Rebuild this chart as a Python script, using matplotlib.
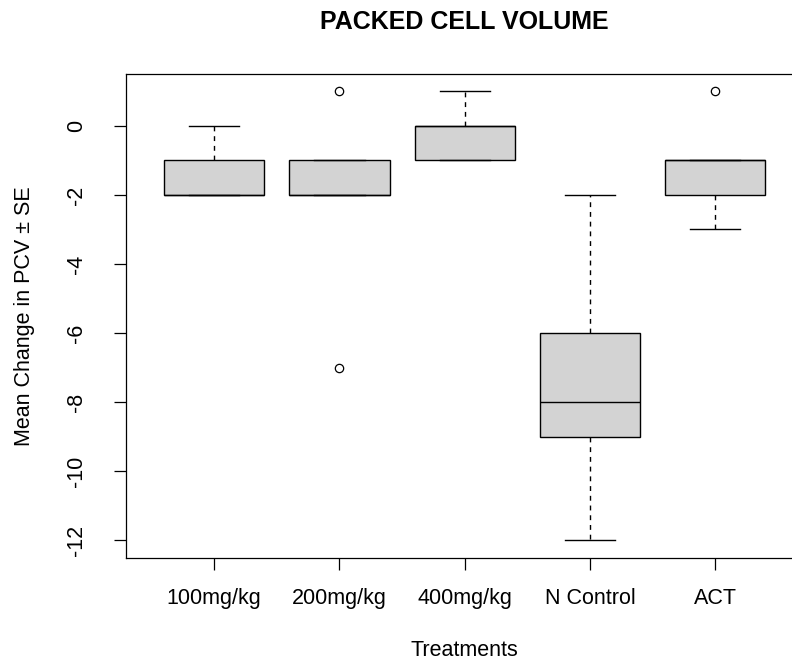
import matplotlib
matplotlib.use("Agg")
import matplotlib.pyplot as plt

plt.rcParams['font.family'] = ['Liberation Sans', 'DejaVu Sans']

categories = ["100mg/kg", "200mg/kg", "400mg/kg", "N Control", "ACT"]
q1 = [-2, -2, -1, -9, -2]
median = [-2, -2, 0, -8, -1]
q3 = [-1, -1, 0, -6, -1]
whisker_low = [-2, -2, -1, -12, -3]
whisker_high = [0, -1, 1, -2, -1]
outliers = [[], [1, -7], [], [], [1]]
y_ticks = [0, -2, -4, -6, -8, -10, -12]

W, H = 792, 660
fig = plt.figure(figsize=(W / 100, H / 100), dpi=100)
left_px, right_px, top_px, bottom_px = 126.5, 803, 73.5, 558
ax = fig.add_axes([left_px / W, 1 - bottom_px / H,
                   (right_px - left_px) / W, (bottom_px - top_px) / H])

stats = []
for i, c in enumerate(categories):
    stats.append(dict(label=c, q1=q1[i], med=median[i], q3=q3[i],
                      whislo=whisker_low[i], whishi=whisker_high[i],
                      fliers=outliers[i]))

positions = list(range(1, len(categories) + 1))
ax.bxp(stats, positions=positions, widths=0.8, capwidths=0.4,
       patch_artist=True, showfliers=True,
       boxprops=dict(facecolor='#D3D3D3', edgecolor='black', linewidth=1.0),
       medianprops=dict(color='black', linewidth=1.0),
       whiskerprops=dict(color='black', linewidth=1.0, linestyle=(0, (3.5, 3.5))),
       capprops=dict(color='black', linewidth=1.0),
       flierprops=dict(marker='o', markerfacecolor='none', markeredgecolor='black',
                       markersize=6, markeredgewidth=0.9))

ax.set_xlim(0.3, 5.7)
ax.set_ylim(-12.52, 1.52)
ax.set_yticks(y_ticks)
ax.set_yticklabels([str(t) for t in y_ticks], rotation=90, va='center')
ax.set_xticks(positions)
ax.set_xticklabels(categories)
ax.tick_params(axis='both', direction='out', length=8.6, width=0.9, labelsize=15.5)
ax.tick_params(axis='y', pad=20)
ax.tick_params(axis='x', pad=13)
for s in ax.spines.values():
    s.set_linewidth(0.9)

fig.text(464.7 / W, 1 - 22 / H, "PACKED CELL VOLUME", ha='center', va='center',
         fontsize=18, fontweight='bold')
fig.text(464.7 / W, 1 - 650 / H, "Treatments", ha='center', va='center', fontsize=15.5)
fig.text(25 / W, 1 - 316 / H, "Mean Change in PCV \u00b1 SE", ha='center', va='center',
         rotation=90, fontsize=15.5)

fig.savefig("out.png", dpi=100)
